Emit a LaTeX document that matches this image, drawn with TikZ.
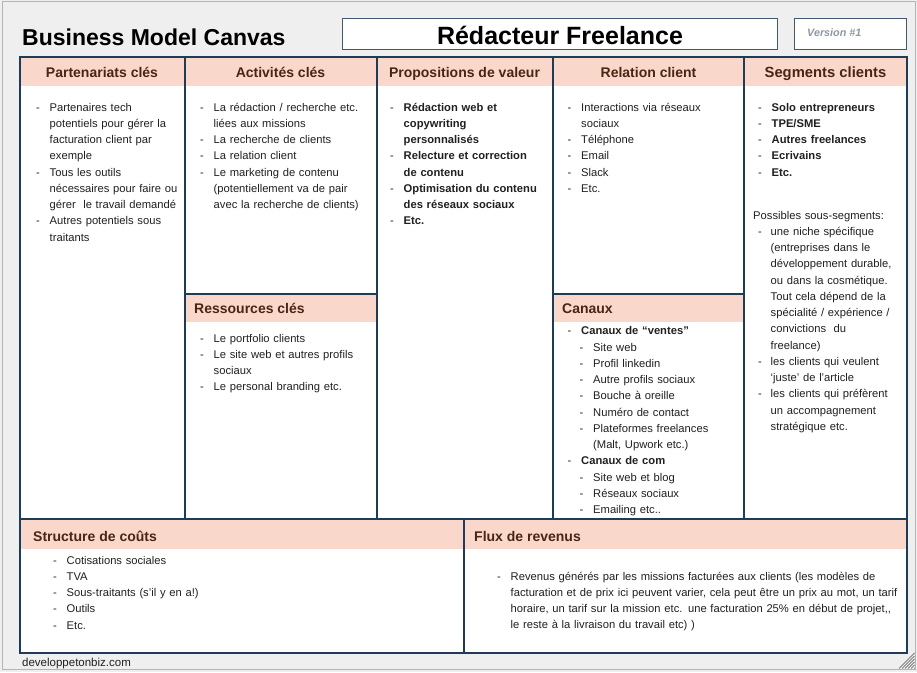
\documentclass[tikz,border=0pt]{standalone}
\usepackage{fontspec}
\setmainfont{Liberation Sans}
\definecolor{navy}{HTML}{1F3B57}
\definecolor{hdrfill}{HTML}{F9D8CB}
\definecolor{hdrtext}{HTML}{4B2413}
\definecolor{bodytext}{HTML}{202020}
\definecolor{pagebg}{HTML}{EFEFEF}
\definecolor{winedge}{HTML}{B4B4B4}
\definecolor{versiongray}{HTML}{8E98A4}
\newcommand\bodyfont{\fontsize{11.2}{16.25}\selectfont}
\newcommand\nl{\unskip\break}
\newcommand\bitem[1]{\par\noindent\hangindent=13.5pt\hangafter=1\makebox[13.5pt][l]{\strut-}{#1}}
\newcommand\bsub[1]{\par\noindent\hangindent=25.5pt\hangafter=1\hspace*{12pt}\makebox[13.5pt][l]{\strut-}{#1}}
\newcommand\pitem[1]{\par\noindent\hangindent=17.5pt\hangafter=1\hspace*{5pt}\makebox[12.5pt][l]{\strut-}{#1}}
\tikzset{
  hdr/.style={font=\fontsize{14}{16}\selectfont\bfseries, text=hdrtext, inner sep=0pt, anchor=base},
  hdrl/.style={hdr, anchor=base west},
  blk/.style={anchor=north west, inner sep=0pt, text width=#1, align=left, font=\bodyfont, text=bodytext},
  gridline/.style={draw=navy, line width=2pt},
  titlebox/.style={draw=navy!85, line width=1.1pt, fill=white, inner sep=0pt, anchor=north west},
}
\begin{document}
\begin{tikzpicture}[x=1pt,y=-1pt]
\useasboundingbox (0,0) rectangle (917,672);
% window background
\fill[pagebg] (0,0) rectangle (917,672);
\draw[winedge, line width=1pt] (2.5,1) rectangle (915.5,669.5);
% title area
\node[anchor=base west, inner sep=0pt, font=\fontsize{23}{26}\selectfont\bfseries, text=black] (bmc) at (22,45) {Business Model Canvas};
\node[titlebox, minimum width=435pt, minimum height=30.5pt] (tbox) at (342,18) {};
\node[anchor=base, inner sep=0pt, font=\fontsize{25}{28}\selectfont\bfseries, text=black] (ttl) at (560,44) {Rédacteur Freelance};
\node[titlebox, minimum width=112pt, minimum height=30.5pt] (vbox) at (794,18) {};
\node[anchor=base west, inner sep=0pt, font=\fontsize{10.8}{12}\selectfont\bfseries\itshape, text=versiongray] (ver) at (807,36) {Version \#1};
% canvas body
\fill[white] (19.5,57) rectangle (907,653);
\fill[hdrfill] (19.5,57) rectangle (907,86);
\fill[hdrfill] (185,294) rectangle (376.5,322);
\fill[hdrfill] (553,294) rectangle (744,322);
\fill[hdrfill] (19.5,519) rectangle (907,549);
% grid lines
\draw[gridline] (185,57) -- (185,519);
\draw[gridline] (376.5,57) -- (376.5,519);
\draw[gridline] (553,57) -- (553,519);
\draw[gridline] (744,57) -- (744,519);
\draw[gridline] (185,293.5) -- (376.5,293.5);
\draw[gridline] (553,293.5) -- (744,293.5);
\draw[gridline] (19.5,519) -- (907,519);
\draw[gridline] (464,519) -- (464,653);
\draw[gridline] (19.5,57) rectangle (907,653);
% headers
\node[hdr] (hpk) at (102,77) {Partenariats clés};
\node[hdr] (hac) at (280.5,77) {Activités clés};
\node[hdr] (hpv) at (464.5,77) {Propositions de valeur};
\node[hdr] (hrc) at (648.5,77) {Relation client};
\node[hdr, font=\fontsize{14.8}{16}\selectfont\bfseries] (hsc) at (825.5,77.5) {Segments clients};
\node[hdrl] (hrk) at (194,313) {Ressources clés};
\node[hdrl] (hcn) at (562,313) {Canaux};
\node[hdrl] (hcs) at (33,541.5) {Structure de coûts};
\node[hdrl] (hfr) at (474,541.5) {Flux de revenus};
% column texts
\node[blk=170] (tpk) at (36,94.6) {%
\bitem{Partenaires tech\nl potentiels pour gérer la\nl facturation client par\nl exemple}%
\bitem{Tous les outils\nl nécessaires pour faire ou\nl gérer~ le travail demandé}%
\bitem{Autres potentiels sous\nl traitants}\par};
\node[blk=185] (tac) at (200,94.6) {%
\bitem{La rédaction / recherche etc.\nl liées aux missions}%
\bitem{La recherche de clients}%
\bitem{La relation client}%
\bitem{Le marketing de contenu\nl (potentiellement va de pair\nl avec la recherche de clients)}\par};
\node[blk=170] (tpv) at (390,94.6) {%
\bitem{\bfseries Rédaction web et\nl copywriting\nl personnalisés}%
\bitem{\bfseries Relecture et correction\nl de contenu}%
\bitem{\bfseries Optimisation du contenu\nl des réseaux sociaux}%
\bitem{\bfseries Etc.}\par};
\node[blk=175] (trc) at (567.5,94.6) {%
\bitem{Interactions via réseaux\nl sociaux}%
\bitem{Téléphone}%
\bitem{Email}%
\bitem{Slack}%
\bitem{Etc.}\par};
\node[blk=150] (tsc) at (758,94.6) {%
\bitem{\bfseries Solo entrepreneurs}%
\bitem{\bfseries TPE/SME}%
\bitem{\bfseries Autres freelances}%
\bitem{\bfseries Ecrivains}%
\bitem{\bfseries Etc.}\par};
\node[blk=155] (tss) at (753,202.6) {%
\par\noindent\strut Possibles sous-segments:%
\pitem{une niche spécifique\nl (entreprises dans le\nl développement durable,\nl ou dans la cosmétique.\nl Tout cela dépend de la\nl spécialité / expérience /\nl convictions~ du\nl freelance)}%
\pitem{les clients qui veulent\nl ‘juste’ de l’article}%
\pitem{les clients qui préfèrent\nl un accompagnement\nl stratégique etc.}\par};
\node[blk=185] (trk) at (200,325.6) {%
\bitem{Le portfolio clients}%
\bitem{Le site web et autres profils\nl sociaux}%
\bitem{Le personal branding etc.}\par};
\node[blk=175] (tcn) at (567.5,318.4) {%
\bitem{\bfseries Canaux de “ventes”}%
\bsub{Site web}%
\bsub{Profil linkedin}%
\bsub{Autre profils sociaux}%
\bsub{Bouche à oreille}%
\bsub{Numéro de contact}%
\bsub{Plateformes freelances\nl (Malt, Upwork etc.)}%
\bitem{\bfseries Canaux de com}%
\bsub{Site web et blog}%
\bsub{Réseaux sociaux}%
\bsub{Emailing etc..}\par};
\node[blk=300] (tcs) at (53,547.6) {%
\bitem{Cotisations sociales}%
\bitem{TVA}%
\bitem{Sous-traitants (s’il y en a!)}%
\bitem{Outils}%
\bitem{Etc.}\par};
\node[blk=420] (tfr) at (497,563.6) {%
\bitem{Revenus générés par les missions facturées aux clients (les modèles de\nl facturation et de prix ici peuvent varier, cela peut être un prix au mot, un tarif\nl horaire, un tarif sur la mission etc. une facturation 25\% en début de projet,{},\nl le reste à la livraison du travail etc) )}\par};
% footer
\node[anchor=base west, inner sep=0pt, font=\fontsize{11.5}{14}\selectfont, text=bodytext] (site) at (22,666.5) {developpetonbiz.com};
% resize grip
\foreach \k in {0,1,2,3,4,5} {
  \draw[gray, line width=0.8pt] (899+3*\k,668.5) -- (914.5,653+3*\k);
}
\end{tikzpicture}
\end{document}
